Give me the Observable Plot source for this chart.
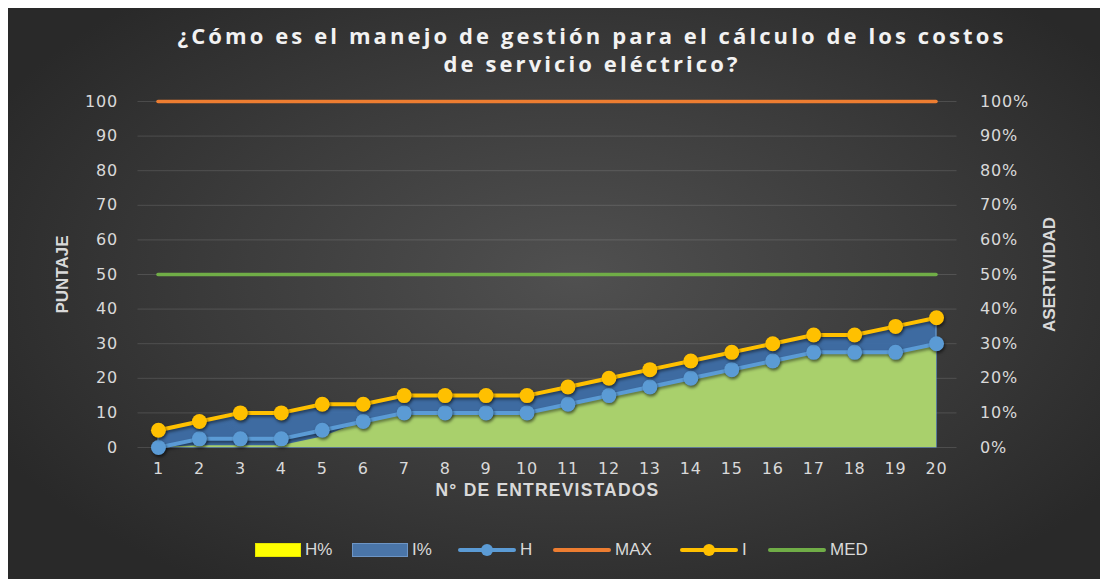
<!DOCTYPE html>
<html>
<head>
<meta charset="utf-8">
<script src="https://cdn.jsdelivr.net/npm/d3@7"></script>
<script src="https://cdn.jsdelivr.net/npm/@observablehq/plot@0.6"></script>
<style>
  html, body { margin: 0; padding: 0; background: #fff; }
  #wrap { position: relative; width: 1100px; height: 579px; overflow: hidden; background: #fff; }
  #bg { position: absolute; left: 8px; top: 8px; width: 1092px; height: 571px;
        background: radial-gradient(ellipse 60% 65% at 52% 47%, #505050 0%, #3d3d3d 50%, #292929 100%); }
  #title { position: absolute; left: 0; width: 1184px; top: 21px; text-align: center;
           font-family: "Open Sans", sans-serif; font-weight: 700; font-size: 22px; letter-spacing: 3.1px;
           line-height: 28px; color: #f2f2f2; }
  #chart { position: absolute; left: 0; top: 80px; }
  #legend { position: absolute; top: 538px; left: 0; width: 1100px; height: 24px;
            font-family: "Liberation Sans", sans-serif; font-size: 17px; color: #d9d9d9; }
  .li { position: absolute; top: 0; display: flex; align-items: center; height: 24px; }
  .li svg { display: block; }
  .dotshadow circle { filter: drop-shadow(1.5px 2.5px 1.5px rgba(0,0,0,0.55)); }
  .lineshadow path { filter: drop-shadow(1px 2px 1.5px rgba(0,0,0,0.45)); }
  .ticks text { letter-spacing: 0.8px; }
</style>
</head>
<body>
<div id="wrap">
  <div id="bg"></div>
  <div id="title">¿Cómo es el manejo de gestión para el cálculo de los costos<br>de servicio eléctrico?</div>
  <div id="chart"></div>
  <div id="legend"></div>
</div>
<script>
// ---- data ----
const entrevistados = [1,2,3,4,5,6,7,8,9,10,11,12,13,14,15,16,17,18,19,20];
const H = [0,2.5,2.5,2.5,5,7.5,10,10,10,10,12.5,15,17.5,20,22.5,25,27.5,27.5,27.5,30];
const I = [5,7.5,10,10,12.5,12.5,15,15,15,15,17.5,20,22.5,25,27.5,30,32.5,32.5,35,37.5];
const Hpct = [0,0.5,0.5,0.5,3,7.5,10,10,10,10,12.5,15,17.5,20,22.5,25,27.5,27.5,27.5,30];
const Ipct = [5,7.5,10,10,12.5,12.5,15,15,15,15,17.5,20,22.5,25,27.5,30,32.5,32.5,35,37.5];
const MAX = [100];
const MED = [50];
const yTicks = [0,10,20,30,40,50,60,70,80,90,100];
const yTickLabelsRight = ["0%","10%","20%","30%","40%","50%","60%","70%","80%","90%","100%"];

const rows = entrevistados.map((x, k) => ({x, h: H[k], i: I[k], hp: Hpct[k], ip: Ipct[k]}));
const x0 = entrevistados[0], x1 = entrevistados[entrevistados.length - 1];

const C = { H: "#5b9bd5", I: "#ffc000", MAX: "#ed7d31", MED: "#70ad47", Hp: "#a9d06c", Ip: "#3e6ea6" };

const chart = Plot.plot({
  width: 1100,
  height: 440,
  marginLeft: 137.5,
  marginRight: 143.5,
  marginTop: 21,
  marginBottom: 73,
  x: { domain: [0.5, 20.5] },
  y: { domain: [0, 100] },
  style: { background: "transparent", color: "#d9d9d9", fontFamily: "DejaVu Sans, sans-serif", fontSize: "16px" },
  marks: [
    Plot.gridY(yTicks, { stroke: "#ffffff", strokeOpacity: 0.13, strokeWidth: 1 }),
    Plot.axisY(yTicks, { anchor: "left", tickSize: 0, tickPadding: 20, label: null, fill: "#d9d9d9", className: "ticks" }),
    Plot.axisY(yTicks, { anchor: "right", tickSize: 0, tickPadding: 23, label: null, fill: "#d9d9d9", className: "ticks",
                         tickFormat: d => yTickLabelsRight[yTicks.indexOf(d)] }),
    Plot.axisX(entrevistados, { anchor: "bottom", tickSize: 0, tickPadding: 15, label: null, fill: "#d9d9d9", className: "ticks", tickFormat: d => String(d) }),
    Plot.areaY(rows, { x: "x", y: "ip", fill: C.Ip, fillOpacity: 0.95, stroke: "#6a9fd6", strokeWidth: 1.2 }),
    Plot.areaY(rows, { x: "x", y: "hp", fill: C.Hp }),
    Plot.ruleY(MAX, { x1: x0, x2: x1, stroke: C.MAX, strokeWidth: 3.5, strokeLinecap: "round" }),
    Plot.ruleY(MED, { x1: x0, x2: x1, stroke: C.MED, strokeWidth: 3.5, strokeLinecap: "round" }),
    Plot.lineY(rows, { x: "x", y: "h", stroke: C.H, strokeWidth: 4, className: "lineshadow" }),
    Plot.dot(rows, { x: "x", y: "h", r: 7.5, fill: C.H, stroke: null, className: "dotshadow" }),
    Plot.lineY(rows, { x: "x", y: "i", stroke: C.I, strokeWidth: 4, className: "lineshadow" }),
    Plot.dot(rows, { x: "x", y: "i", r: 7.5, fill: C.I, stroke: null, className: "dotshadow" }),
    Plot.text(["PUNTAJE"], { frameAnchor: "left", textAnchor: "middle", dx: -75, rotate: -90, fill: "#d9d9d9",
      fontFamily: "Liberation Sans Narrow, Liberation Sans, sans-serif", fontWeight: "bold", fontSize: 17 }),
    Plot.text(["ASERTIVIDAD"], { frameAnchor: "right", textAnchor: "middle", dx: 93, rotate: -90, fill: "#d9d9d9",
      fontFamily: "Liberation Sans Narrow, Liberation Sans, sans-serif", fontWeight: "bold", fontSize: 17 }),
    Plot.text(["N° DE ENTREVISTADOS"], { frameAnchor: "bottom", dy: 48, fill: "#d9d9d9",
      fontFamily: "Liberation Sans, sans-serif", fontWeight: "bold", fontSize: 17.5 })
  ]
});
document.getElementById("chart").appendChild(chart);
// letter spacing for x-axis title
chart.querySelectorAll("text").forEach(t => { if (t.textContent === "N° DE ENTREVISTADOS") t.setAttribute("letter-spacing", "1.2"); });

// ---- legend ----
const legendItems = [
  { label: "H%", kind: "rect", fill: "#ffff00", stroke: "#e6e600", left: 255, w: 46 },
  { label: "I%", kind: "rect", fill: "#4a75a8", stroke: "#6d95c5", left: 352, w: 56 },
  { label: "H", kind: "linedot", color: C.H, left: 458, w: 58 },
  { label: "MAX", kind: "line", color: C.MAX, left: 553, w: 58 },
  { label: "I", kind: "linedot", color: C.I, left: 680, w: 58 },
  { label: "MED", kind: "line", color: C.MED, left: 768, w: 58 }
];
const legend = document.getElementById("legend");
legendItems.forEach(it => {
  const d = document.createElement("div");
  d.className = "li";
  d.style.left = it.left + "px";
  let sw;
  if (it.kind === "rect") {
    sw = `<svg width="${it.w}" height="14"><rect x="0.5" y="0.5" width="${it.w - 1}" height="13" fill="${it.fill}" stroke="${it.stroke}"/></svg>`;
  } else if (it.kind === "line") {
    sw = `<svg width="${it.w}" height="14"><line x1="2" x2="${it.w - 2}" y1="7" y2="7" stroke="${it.color}" stroke-width="4" stroke-linecap="round"/></svg>`;
  } else {
    sw = `<svg width="${it.w}" height="14"><line x1="2" x2="${it.w - 2}" y1="7" y2="7" stroke="${it.color}" stroke-width="4" stroke-linecap="round"/><circle cx="${it.w/2}" cy="7" r="6" fill="${it.color}"/></svg>`;
  }
  d.innerHTML = sw + `<span style="margin-left:4px">${it.label}</span>`;
  legend.appendChild(d);
});
</script>
</body>
</html>
